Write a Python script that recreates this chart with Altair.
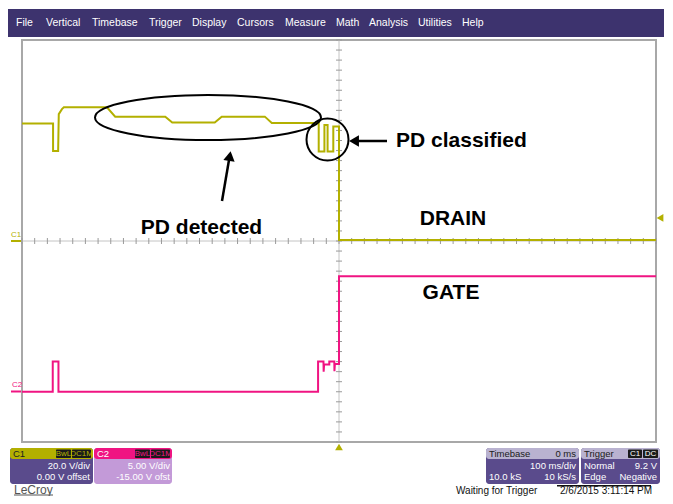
import altair as alt
import pandas as pd

# C1 (DRAIN) trace: time in ms, level in volts
C1_TIME_MS = [-500, -451, -451, -443, -442, -437, -434, -366, -353, -274, -263, -196, -185,
              -117, -106, -32, -32, -23, -23, -18, -18, -9, -9, 0, 0, 500]
C1_VOLTS = [46.8, 46.8, 35.8, 35.8, 50.5, 52.5, 53.2, 53.2, 49.5, 49.5, 47.2, 47.2, 49.5,
            49.5, 47.0, 47.0, 35.6, 35.6, 46.2, 46.2, 35.6, 35.6, 45.6, 45.6, 0.4, 0.4]
# C2 (GATE) trace
C2_TIME_MS = [-500, -451.5, -451.5, -442.5, -442.5, -33, -33, -24.5, -24.2, -23.5, -15.3,
              -15.3, -7.4, -7.2, -6.5, 0, 0, 500]
C2_VOLTS = [0, 0, 3.0, 3.0, 0, 0, 3.0, 3.0, 2.0, 2.7, 2.7, 3.0, 3.0, 2.05, 2.75, 2.75, 11.5, 11.5]

C1_VDIV, C1_OFFSET = 20.0, 0.0
C2_VDIV, C2_OFFSET = 5.0, -15.0
TIME_DIV_MS = 100
TRIG_LEVEL_V = 9.2

MENU = ["File", "Vertical", "Timebase", "Trigger", "Display", "Cursors", "Measure",
        "Math", "Analysis", "Utilities", "Help"]
LABELS = ["PD detected", "PD classified", "DRAIN", "GATE"]
C1_INFO = ["C1", "BwL", "DC1M", "20.0 V/div", "0.00 V offset"]
C2_INFO = ["C2", "BwL", "DC1M", "5.00 V/div", "-15.00 V ofst"]
TB_INFO = ["Timebase", "0 ms", "100 ms/div", "10.0 kS", "10 kS/s"]
TRIG_INFO = ["Trigger", "C1", "DC", "Normal", "9.2 V", "Edge", "Negative"]
STATUS = ["LeCroy", "Waiting for Trigger", "2/6/2015 3:11:14 PM"]

# ---------------- layout / style ----------------
W, H = 634, 402
OX, OY = 22, 40           # plot origin in picture pixels
FONT = "Liberation Sans"
YEL = "#b3b000"
PINK = "#f01482"
GRIDC = "#b8b8b8"
MENU_BG = "#3d336e"
PANEL_BG = "#5a4b8c"

def px(x):
    return x - OX

def py(y):
    return y - OY

def t_of(xpix):
    return (xpix - (OX + W / 2)) / (W / 10) * TIME_DIV_MS

def d_of(ypix):
    return ((OY + H / 2) - ypix) / (H / 8)

XS = alt.Scale(domain=[-5 * TIME_DIV_MS, 5 * TIME_DIV_MS], nice=False, zero=False)
YS = alt.Scale(domain=[-4, 4], nice=False, zero=False)
XAX = alt.Axis(values=list(range(-500, 501, 100)), grid=True, gridColor=GRIDC,
               gridDash=[2, 2], gridWidth=1, labels=False, ticks=False, domain=False, title=None)
YAX = alt.Axis(values=list(range(-4, 5)), grid=True, gridColor=GRIDC,
               gridDash=[2, 2], gridWidth=1, labels=False, ticks=False, domain=False, title=None)

ONE = pd.DataFrame({"k": [0]})
layers = []

def rect(x0, y0, x1, y1, color, r=0):
    layers.append(alt.Chart(ONE).mark_rect(color=color, cornerRadius=r).encode(
        x=alt.value(px(x0)), x2=alt.value(px(x1)), y=alt.value(py(y0)), y2=alt.value(py(y1))))

def text(s, x, y, size, color, align="left", weight="normal"):
    layers.append(alt.Chart(ONE).mark_text(text=s, align=align, baseline="middle", fontSize=size,
                                           color=color, fontWeight=weight, font=FONT).encode(
        x=alt.value(px(x)), y=alt.value(py(y))))

def hline(x0, x1, y, color, w=1):
    layers.append(alt.Chart(ONE).mark_rule(color=color, strokeWidth=w).encode(
        x=alt.value(px(x0)), x2=alt.value(px(x1)), y=alt.value(py(y))))

# ---- traces ----
c1_df = pd.DataFrame({"i": range(len(C1_TIME_MS)), "t": C1_TIME_MS, "v": C1_VOLTS})
c2_df = pd.DataFrame({"i": range(len(C2_TIME_MS)), "t": C2_TIME_MS, "v": C2_VOLTS})

grid_base = alt.Chart(c1_df).mark_line(opacity=0).encode(
    x=alt.X("t:Q", scale=XS, axis=XAX), y=alt.Y("v:Q", scale=YS, axis=YAX))
layers.append(grid_base)

# center cross with minor ticks
layers.append(alt.Chart(ONE).mark_rule(color="#c4c4c4", strokeWidth=1).encode(
    x=alt.XDatum(0, axis=None)))
layers.append(alt.Chart(ONE).mark_rule(color="#c4c4c4", strokeWidth=1).encode(
    y=alt.YDatum(0, axis=None)))
layers.append(alt.Chart(alt.sequence(-500, 501, 20, as_="t")).mark_rule(color="#9a9a9a").encode(
    x=alt.X("t:Q", scale=XS, axis=None), y=alt.value(H / 2 - 3), y2=alt.value(H / 2 + 3)))
layers.append(alt.Chart(alt.sequence(-4, 4.01, 0.2, as_="d")).mark_rule(color="#9a9a9a").encode(
    y=alt.Y("d:Q", scale=YS, axis=None), x=alt.value(W / 2 - 3), x2=alt.value(W / 2 + 3)))

layers.append(alt.Chart(c1_df).transform_calculate(
    d=f"(datum.v + {C1_OFFSET}) / {C1_VDIV}").mark_line(color=YEL, strokeWidth=2).encode(
    x=alt.X("t:Q", scale=XS, axis=None), y=alt.Y("d:Q", scale=YS, axis=None), order="i:Q"))
layers.append(alt.Chart(c2_df).transform_calculate(
    d=f"(datum.v + {C2_OFFSET}) / {C2_VDIV}").mark_line(color=PINK, strokeWidth=2).encode(
    x=alt.X("t:Q", scale=XS, axis=None), y=alt.Y("d:Q", scale=YS, axis=None), order="i:Q"))

# channel markers on left
text(C1_INFO[0], 16, 235, 8, YEL, align="center")
hline(11, 21, 241, YEL, 2)
text(C2_INFO[0], 17, 385, 8, PINK, align="center")
hline(11, 21, 391.5, PINK, 2)

# trigger markers
layers.append(alt.Chart(ONE).mark_point(shape="triangle-up", filled=True, color=YEL, size=60, opacity=1).encode(
    x=alt.XDatum(0, axis=None), y=alt.value(py(447))))
layers.append(alt.Chart(ONE).mark_point(shape="triangle-left", filled=True, color=YEL, size=60, opacity=1).encode(
    y=alt.YDatum((TRIG_LEVEL_V + C1_OFFSET) / C1_VDIV, axis=None), x=alt.value(px(660))))

# ---- annotations (in data coordinates) ----
ELLIPSE = "M -1 0 A 1 0.2 0 1 1 1 0 A 1 0.2 0 1 1 -1 0 Z"
layers.append(alt.Chart(ONE).mark_point(shape=ELLIPSE, filled=False, color="black", strokeWidth=2,
                                         size=226 ** 2, opacity=1).encode(
    x=alt.XDatum(t_of(208), axis=None), y=alt.YDatum(d_of(117.5), axis=None)))
layers.append(alt.Chart(ONE).mark_point(shape="circle", filled=False, color="black", strokeWidth=2,
                                         size=42 ** 2, opacity=1).encode(
    x=alt.XDatum(t_of(327.5), axis=None), y=alt.YDatum(d_of(139.5), axis=None)))
# PD classified arrow
layers.append(alt.Chart(ONE).mark_rule(color="black", strokeWidth=2.5).encode(
    x=alt.XDatum(t_of(387), axis=None), x2=alt.X2Datum(t_of(356)),
    y=alt.YDatum(d_of(141), axis=None)))
layers.append(alt.Chart(ONE).mark_point(shape="triangle-left", filled=True, color="black",
                                         size=130, opacity=1).encode(
    x=alt.XDatum(t_of(354), axis=None), y=alt.YDatum(d_of(141), axis=None)))
# PD detected arrow
layers.append(alt.Chart(ONE).mark_rule(color="black", strokeWidth=2.5).encode(
    x=alt.XDatum(t_of(222), axis=None), x2=alt.X2Datum(t_of(229)),
    y=alt.YDatum(d_of(201), axis=None), y2=alt.Y2Datum(d_of(160))))
layers.append(alt.Chart(ONE).mark_point(shape="triangle-up", filled=True, color="black",
                                         size=130, angle=9.5, opacity=1).encode(
    x=alt.XDatum(t_of(229.8), axis=None), y=alt.YDatum(d_of(156), axis=None)))

for lab, (xp, yp, al) in zip(LABELS, [(201.5, 228, "center"), (396, 141, "left"),
                                      (453, 219, "center"), (451, 293, "center")]):
    layers.append(alt.Chart(ONE).mark_text(text=lab, align=al, baseline="middle", fontSize=21,
                                           fontWeight="bold", font=FONT, color="black").encode(
        x=alt.XDatum(t_of(xp), axis=None), y=alt.YDatum(d_of(yp), axis=None)))

# ---- menu bar ----
rect(8, 9, 664, 37, MENU_BG)
for lab, xm in zip(MENU, [16, 46, 92, 149, 192, 237, 285, 336, 369, 418, 462]):
    text(lab, xm, 23, 10.5, "white")

# ---- bottom panels ----
PT, PM, PB = 448, 459, 484
# C1
rect(10, PT, 93, PB, PANEL_BG, 3)
rect(10, PT, 93, PM, YEL, 3)
text(C1_INFO[0], 13, 453.5, 9.5, "#202020")
rect(56, PT + 1.5, 71, PM - 1, "#1a1a1a", 1)
rect(72, PT + 1.5, 91, PM - 1, "#1a1a1a", 1)
text(C1_INFO[1], 63.5, 453.5, 8, YEL, align="center")
text(C1_INFO[2], 81.5, 453.5, 8, YEL, align="center")
text(C1_INFO[3], 90, 465.5, 9.5, "white", align="right")
text(C1_INFO[4], 90, 476.5, 9.5, "white", align="right")
# C2
rect(94, PT, 172, PB, "#c39ad8", 3)
rect(94, PT, 172, PM, PINK, 3)
text(C2_INFO[0], 97, 453.5, 9.5, "white")
rect(135, PT + 1.5, 150, PM - 1, "#1a1a1a", 1)
rect(151, PT + 1.5, 170, PM - 1, "#1a1a1a", 1)
text(C2_INFO[1], 142.5, 453.5, 8, PINK, align="center")
text(C2_INFO[2], 160.5, 453.5, 8, PINK, align="center")
text(C2_INFO[3], 170, 465.5, 9.5, "white", align="right")
text(C2_INFO[4], 170, 476.5, 9.5, "white", align="right")
# Timebase
rect(486, PT, 579, PB, PANEL_BG, 3)
rect(486, PT, 579, PM, "#b9b2d0", 3)
text(TB_INFO[0], 489, 453.5, 9.5, "#202020")
text(TB_INFO[1], 576, 453.5, 9.5, "#202020", align="right")
text(TB_INFO[2], 576, 465.5, 9.5, "white", align="right")
text(TB_INFO[3], 489, 476.5, 9.5, "white")
text(TB_INFO[4], 576, 476.5, 9.5, "white", align="right")
# Trigger
rect(581, PT, 660, PB, PANEL_BG, 3)
rect(581, PT, 660, PM, "#b9b2d0", 3)
text(TRIG_INFO[0], 584, 453.5, 9.5, "#202020")
rect(628, PT + 1.5, 642, PM - 1, "#1a1a1a", 1)
rect(643, PT + 1.5, 658, PM - 1, "#1a1a1a", 1)
text(TRIG_INFO[1], 635, 453.5, 8, "white", align="center")
text(TRIG_INFO[2], 650.5, 453.5, 8, "white", align="center")
text(TRIG_INFO[3], 584, 465.5, 9.5, "white")
text(TRIG_INFO[4], 657, 465.5, 9.5, "white", align="right")
text(TRIG_INFO[5], 584, 476.5, 9.5, "white")
text(TRIG_INFO[6], 657, 476.5, 9.5, "white", align="right")

# ---- status line ----
text(STATUS[0], 14, 489.5, 12, "#555555")
hline(14, 53, 495, "#555555", 1)
text(STATUS[1], 456, 490.5, 10, "#111111")
hline(557, 651, 485.8, "#111111", 1.5)
text(STATUS[2], 560, 490.5, 10, "#111111")

chart = alt.layer(*layers).properties(
    width=W, height=H,
    padding={"left": 14, "top": 32, "right": 9, "bottom": 54},
    autosize=alt.AutoSizeParams(type="none"),
    background="white",
).configure_view(stroke="#a8a8a8", strokeWidth=2)

chart.save("out.html", embed_options={"renderer": "svg", "actions": False})
